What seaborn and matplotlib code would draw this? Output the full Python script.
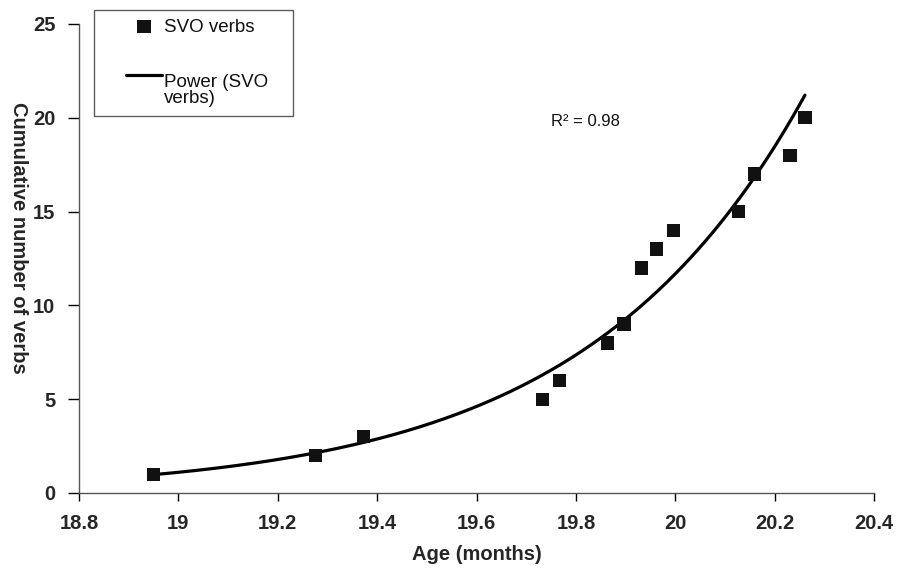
import numpy as np
import pandas as pd
import matplotlib
matplotlib.use("Agg")
import matplotlib.pyplot as plt
import seaborn as sns
from matplotlib.lines import Line2D
from matplotlib.collections import PathCollection
from matplotlib.legend_handler import HandlerLine2D, HandlerPathCollection

age = [18.95, 19.276, 19.373, 19.733, 19.767, 19.863, 19.897, 19.932,
       19.962, 19.996, 20.127, 20.159, 20.231, 20.261]
verbs = [1, 2, 3, 5, 6, 8, 9, 12, 13, 14, 15, 17, 18, 20]
x_ticks = [18.8, 19, 19.2, 19.4, 19.6, 19.8, 20, 20.2, 20.4]
x_tick_labels = ["18.8", "19", "19.2", "19.4", "19.6", "19.8", "20", "20.2", "20.4"]
y_ticks = [0, 5, 10, 15, 20, 25]

df = pd.DataFrame({"age": age, "verbs": verbs})

# power trendline, like Excel: fit in log-log space
b, log_a = np.polyfit(np.log(df["age"]), np.log(df["verbs"]), 1)
fit_x = np.linspace(min(age), max(age), 200)
fit_df = pd.DataFrame({"age": fit_x, "verbs": np.exp(log_a) * fit_x ** b})


class TopLine(HandlerLine2D):
    # Excel puts the line key level with the first text line
    def __init__(self, shift=0, **kw):
        super().__init__(**kw)
        self.shift = shift

    def create_artists(self, legend, orig_handle, xdescent, ydescent, width, height, fontsize, trans):
        return super().create_artists(legend, orig_handle, xdescent, ydescent - 2 * self.shift,
                                      width, height, fontsize, trans)


sns.set_style("white")
plt.rcParams["font.family"] = ["Liberation Sans", "DejaVu Sans"]

fig = plt.figure(figsize=(9, 5.75), dpi=100)
ax = fig.add_axes([79 / 900, 1 - 493 / 575, 795 / 900, 469 / 575])

sns.scatterplot(data=df, x="age", y="verbs", marker="s", s=92, color="#111111",
                edgecolor="none", ax=ax, label="SVO verbs", zorder=3)
sns.lineplot(data=fit_df, x="age", y="verbs", color="black", linewidth=2.3,
             ax=ax, label="Power (SVO   \nverbs)", zorder=2)

ax.set_xlim(18.8, 20.4)
ax.set_ylim(0, 25)
ax.set_xticks(x_ticks)
ax.set_xticklabels(x_tick_labels)
ax.set_yticks(y_ticks)
for lbl in ax.get_xticklabels() + ax.get_yticklabels():
    lbl.set_fontweight("bold")
    lbl.set_fontsize(14.5)
ax.tick_params(axis="x", direction="out", length=6, width=1, color="black",
               bottom=True, pad=9)
ax.tick_params(axis="y", direction="out", length=8, width=1, color="black",
               left=True, pad=9)

for side in ["top", "right"]:
    ax.spines[side].set_visible(False)
for side in ["left", "bottom"]:
    ax.spines[side].set_color("#555555")
    ax.spines[side].set_linewidth(1)

ax.set_xlabel("Age (months)", fontsize=14.5, fontweight="bold", labelpad=9)
ax.set_ylabel("Cumulative number of verbs", fontsize=14.5, fontweight="bold",
              rotation=-90, va="center", ha="center")
ax.yaxis.set_label_coords(-0.0755, 0.545)

ax.text(19.75, 19.55, "R² = 0.98", fontsize=12, color="#111111")

pad = 1.25
leg = ax.legend(loc="upper left", bbox_to_anchor=(94 / 900, 1 - 10 / 575),
                bbox_transform=fig.transFigure, fontsize=13.5, frameon=True,
                fancybox=False, edgecolor="#333333", labelspacing=2.05,
                handlelength=3.2, borderpad=0.45, handletextpad=0.1,
                borderaxespad=0, markerscale=1.0,
                handler_map={Line2D: TopLine(shift=11, xpad=pad),
                             PathCollection: HandlerPathCollection(xpad=pad)})
leg.get_frame().set_linewidth(1)
for t in leg.get_texts():
    t.set_color("#111111")
    t.set_linespacing(0.95)

fig.savefig("out.png", dpi=100)
